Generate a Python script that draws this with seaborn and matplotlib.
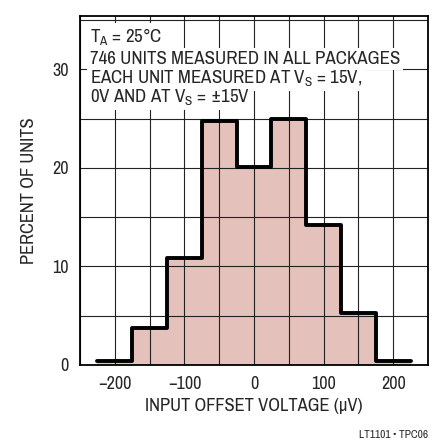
import numpy as np
import pandas as pd
import matplotlib
matplotlib.use("Agg")
import matplotlib.pyplot as plt
from matplotlib.ticker import MultipleLocator
import seaborn as sns

# ========================
# DATA
# ========================
BIN_CENTERS = [-200, -150, -100, -50, 0, 50, 100, 150, 200]  # uV
PERCENT = [0.4, 3.7, 10.9, 24.7, 20.1, 25.0, 14.2, 5.3, 0.45]
BIN_WIDTH = 50
X_TICKS = [-200, -100, 0, 100, 200]
Y_TICKS = [0, 10, 20, 30]
NOTE_LINES = [
    "T$_A$ = 25°C",
    "746 UNITS MEASURED IN ALL PACKAGES",
    "EACH UNIT MEASURED AT V$_S$ = 15V,",
    "0V AND AT V$_S$ = ±15V",
]
FILL_COLOR = "#E4C1BB"
GRID_COLOR = "#222222"
FONT = "Archivo Narrow"

# ========================
# STYLE
# ========================
sns.set_style("white")
plt.rcParams["font.family"] = [FONT, "DejaVu Sans"]
plt.rcParams["mathtext.fontset"] = "custom"
plt.rcParams["mathtext.rm"] = FONT
plt.rcParams["mathtext.default"] = "rm"

df = pd.DataFrame({"vos": BIN_CENTERS, "pct": PERCENT})
lo = min(BIN_CENTERS) - BIN_WIDTH / 2
hi = max(BIN_CENTERS) + BIN_WIDTH / 2

fig = plt.figure(figsize=(4.35, 4.44), dpi=100)
ax = fig.add_axes([0.184, 0.178, 0.800, 0.786])

# filled histogram (no edge), gridlines go over it
sns.histplot(data=df, x="vos", weights="pct", binwidth=BIN_WIDTH,
             binrange=(lo, hi), element="step", fill=True,
             color=FILL_COLOR, alpha=1, linewidth=0, ax=ax, zorder=1)
# heavy step outline on top
sns.histplot(data=df, x="vos", weights="pct", binwidth=BIN_WIDTH,
             binrange=(lo, hi), element="step", fill=False,
             color="black", linewidth=2.8, ax=ax, zorder=3)

ax.set_xlim(-250, 250)
ax.set_ylim(0, 35.4)
ax.set_xticks(X_TICKS)
ax.set_yticks(Y_TICKS)
ax.set_xticklabels(["\u2212200", "\u2212100", "0", "100", "200"])
ax.xaxis.set_minor_locator(MultipleLocator(50))
ax.yaxis.set_minor_locator(MultipleLocator(5))
ax.set_axisbelow(False)
ax.grid(True, which="both", color=GRID_COLOR, linewidth=0.8)
ax.tick_params(which="both", length=0, labelsize=13, pad=8)

for s in ax.spines.values():
    s.set_visible(True)
    s.set_color("black")
    s.set_linewidth(1.3)
    s.set_zorder(4)

ax.set_xlabel("INPUT OFFSET VOLTAGE (\u03bcV)", fontsize=13.3, labelpad=4)
ax.set_ylabel("PERCENT OF UNITS", fontsize=13.3, labelpad=11)

# note block, each line on its own white box
y_base = [0.9255, 0.8625, 0.808, 0.7536]
for txt, yb in zip(NOTE_LINES, y_base):
    ax.text(0.029, yb, txt, transform=ax.transAxes, fontsize=13.6,
            ha="left", va="baseline", zorder=5,
            bbox=dict(facecolor="white", edgecolor="none", pad=2.0))

fig.text(0.984, 0.008, "LT1101 \u2022 TPC06", fontsize=8.2,
         ha="right", va="bottom")

fig.savefig("out.png", dpi=100)
